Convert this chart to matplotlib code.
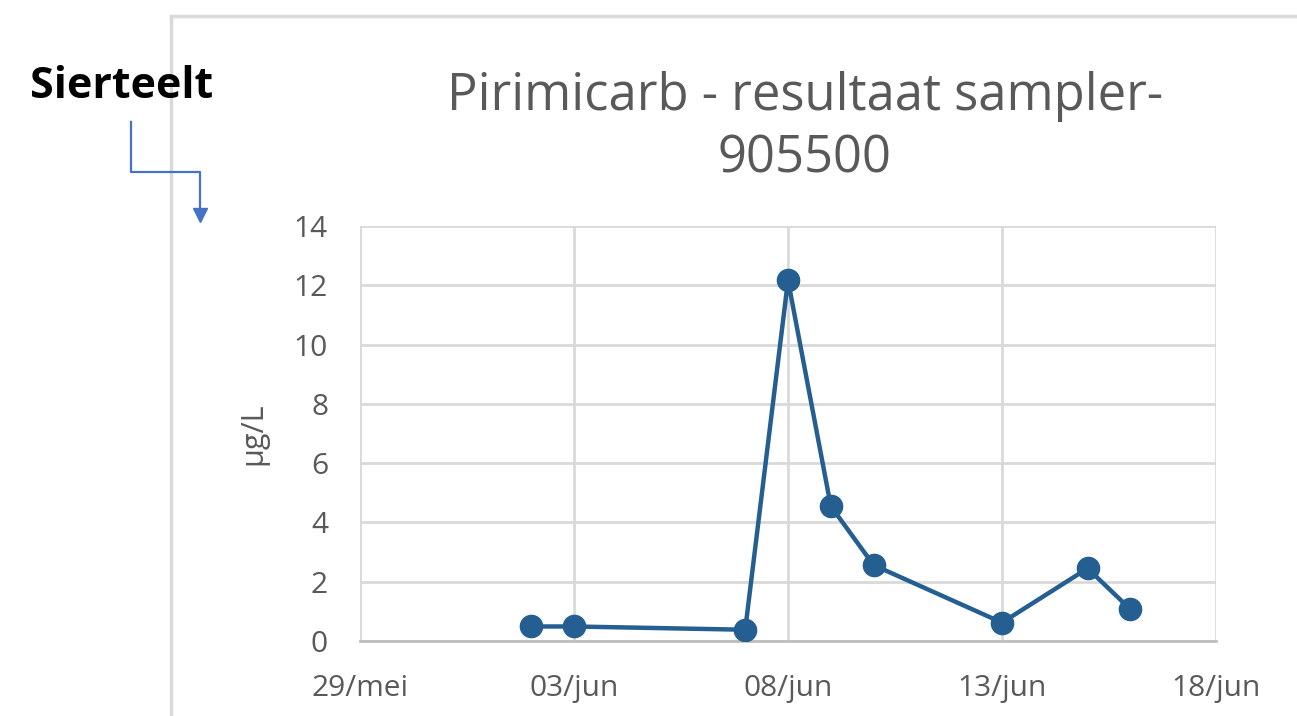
import matplotlib
matplotlib.use('Agg')
from matplotlib import pyplot as plt
from matplotlib.lines import Line2D
import numpy as np
import datetime as dt

plt.rcParams['font.family'] = ['Open Sans', 'DejaVu Sans']

# data
dates = ['2021-06-02', '2021-06-03', '2021-06-07', '2021-06-08', '2021-06-09',
         '2021-06-10', '2021-06-13', '2021-06-15', '2021-06-16']
values = [0.49, 0.49, 0.38, 12.17, 4.55, 2.56, 0.62, 2.45, 1.07]
tick_dates = ['2021-05-29', '2021-06-03', '2021-06-08', '2021-06-13', '2021-06-18']
tick_labels = ['29/mei', '03/jun', '08/jun', '13/jun', '18/jun']
y_ticks = [0, 2, 4, 6, 8, 10, 12, 14]

x = [dt.datetime.strptime(d, '%Y-%m-%d') for d in dates]
xt = [dt.datetime.strptime(d, '%Y-%m-%d') for d in tick_dates]

W, H = 1297, 716
fig = plt.figure(figsize=(W / 100, H / 100), dpi=100)
ax = fig.add_axes([360 / W, 1 - 641 / H, (1216 - 360) / W, (641 - 226) / H])

grey = '#595959'
grid = '#d9d9d9'

ax.plot(x, values, color='#255e91', lw=3.2, marker='o', ms=16, zorder=3)

ax.set_xlim(xt[0], xt[-1])
ax.set_ylim(0, 14)
ax.set_xticks(xt)
ax.set_xticklabels(tick_labels)
ax.set_yticks(y_ticks)
ax.tick_params(length=0, labelsize=21.5, colors=grey)
ax.tick_params(axis='y', pad=23)
ax.tick_params(axis='x', pad=24)
ax.grid(True, color=grid, lw=2)
ax.set_axisbelow(True)
for s in ['top', 'right', 'left']:
    ax.spines[s].set_visible(False)
ax.spines['bottom'].set_color('#bfbfbf')
ax.spines['bottom'].set_linewidth(2)
ax.set_ylabel('µg/L', fontsize=22, color=grey, labelpad=18)

fig.text(805 / W, 1 - 128 / H, 'Pirimicarb - resultaat sampler-\n905500', ha='center', va='center',
         fontsize=36.5, color=grey, linespacing=1.3)

# chart frame
fig.add_artist(Line2D([171 / W, 171 / W], [0, 1 - 16 / H], color=grid, lw=2.5, transform=fig.transFigure))
fig.add_artist(Line2D([171 / W, 1], [1 - 16 / H, 1 - 16 / H], color=grid, lw=2.5, transform=fig.transFigure))

# label with connector
fig.text(30 / W, 1 - 87 / H, 'Sierteelt', ha='left', va='center', fontsize=31, fontweight='bold', color='black')
px = np.array([131, 131, 200, 200]) / W
py = 1 - np.array([122, 172, 172, 212]) / H
fig.add_artist(Line2D(px, py, color='#4472c4', lw=1.6, transform=fig.transFigure))
fig.add_artist(Line2D([200 / W], [1 - 215 / H], color='#4472c4', marker='v', ms=10, lw=0,
                      transform=fig.transFigure))

plt.savefig('out.png', dpi=100)
